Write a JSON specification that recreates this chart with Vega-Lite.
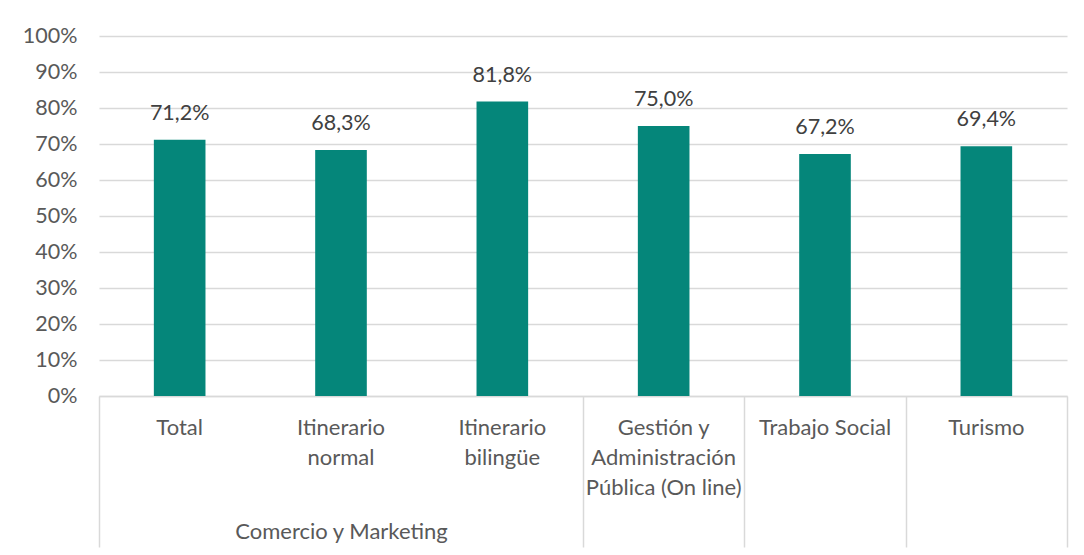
{
  "$schema": "https://vega.github.io/schema/vega-lite/v6.json",
  "width": 968,
  "height": 360,
  "autosize": "none",
  "padding": {"left": 99, "top": 36, "right": 17, "bottom": 159},
  "background": "white",
  "config": {
    "view": {"stroke": null},
    "font": "Lato",
    "locale": {"number": {"decimal": ",", "thousands": ".", "grouping": [3], "currency": ["", " €"]}}
  },
  "data": {
    "values": [
      {"categoria": "Total", "valor": 0.712},
      {"categoria": "Itinerario normal", "valor": 0.683},
      {"categoria": "Itinerario bilingüe", "valor": 0.818},
      {"categoria": "Gestión y Administración Pública (On line)", "valor": 0.75},
      {"categoria": "Trabajo Social", "valor": 0.672},
      {"categoria": "Turismo", "valor": 0.694}
    ]
  },
  "encoding": {
    "y": {
      "field": "valor",
      "type": "quantitative",
      "scale": {"domain": [0, 1], "nice": false},
      "axis": {
        "title": null,
        "values": [0, 0.1, 0.2, 0.3, 0.4, 0.5, 0.6, 0.7, 0.8, 0.9, 1],
        "format": ".0%",
        "labelFontSize": 21.5,
        "labelColor": "#595959",
        "labelPadding": 22,
        "labelOverlap": false,
        "ticks": false,
        "domain": false,
        "grid": true,
        "gridColor": "#D9D9D9",
        "gridWidth": 1.5
      }
    }
  },
  "resolve": {"axis": {"x": "independent"}},
  "layer": [
    {
      "mark": {"type": "bar", "color": "#05867A", "width": {"band": 0.32}},
      "encoding": {
        "x": {
          "field": "categoria",
          "type": "nominal",
          "sort": null,
          "scale": {"paddingInner": 0, "paddingOuter": 0},
          "axis": {
            "orient": "bottom",
            "title": "Comercio y Marketing",
            "titleFont": "Lato",
            "titleFontSize": 22,
            "titleFontWeight": "normal",
            "titleColor": "#595959",
            "titleX": 242,
            "titleY": 135,
            "titleAlign": "center",
            "titleBaseline": "middle",
            "labelAngle": 0,
            "labelFontSize": 22,
            "labelColor": "#595959",
            "labelPadding": 21,
            "labelLineHeight": 30,
            "labelBaseline": "top",
            "labelExpr": "datum.label === 'Itinerario normal' ? ['Itinerario', 'normal'] : datum.label === 'Itinerario bilingüe' ? ['Itinerario', 'bilingüe'] : datum.label === 'Gestión y Administración Pública (On line)' ? ['Gestión y', 'Administración', 'Pública (On line)'] : datum.label",
            "labelLimit": 0,
            "labelOverlap": false,
            "ticks": false,
            "domain": true,
            "domainColor": "#D9D9D9",
            "domainWidth": 1.5,
            "grid": false
          }
        }
      }
    },
    {
      "mark": {"type": "text", "baseline": "alphabetic", "dy": -20, "fontSize": 21.5, "color": "#404040", "font": "Lato"},
      "encoding": {
        "x": {
          "field": "categoria",
          "type": "nominal",
          "sort": null,
          "axis": {
            "orient": "bottom",
            "title": null,
            "labels": false,
            "domain": false,
            "grid": false,
            "ticks": true,
            "tickBand": "extent",
            "tickSize": 151,
            "tickWidth": 1.5,
            "tickColor": {
              "condition": {"test": "datum.value === 'Total' || datum.value === 'Itinerario normal'", "value": "transparent"},
              "value": "#D9D9D9"
            }
          }
        },
        "text": {"field": "valor", "type": "quantitative", "format": ".1%"}
      }
    }
  ]
}
